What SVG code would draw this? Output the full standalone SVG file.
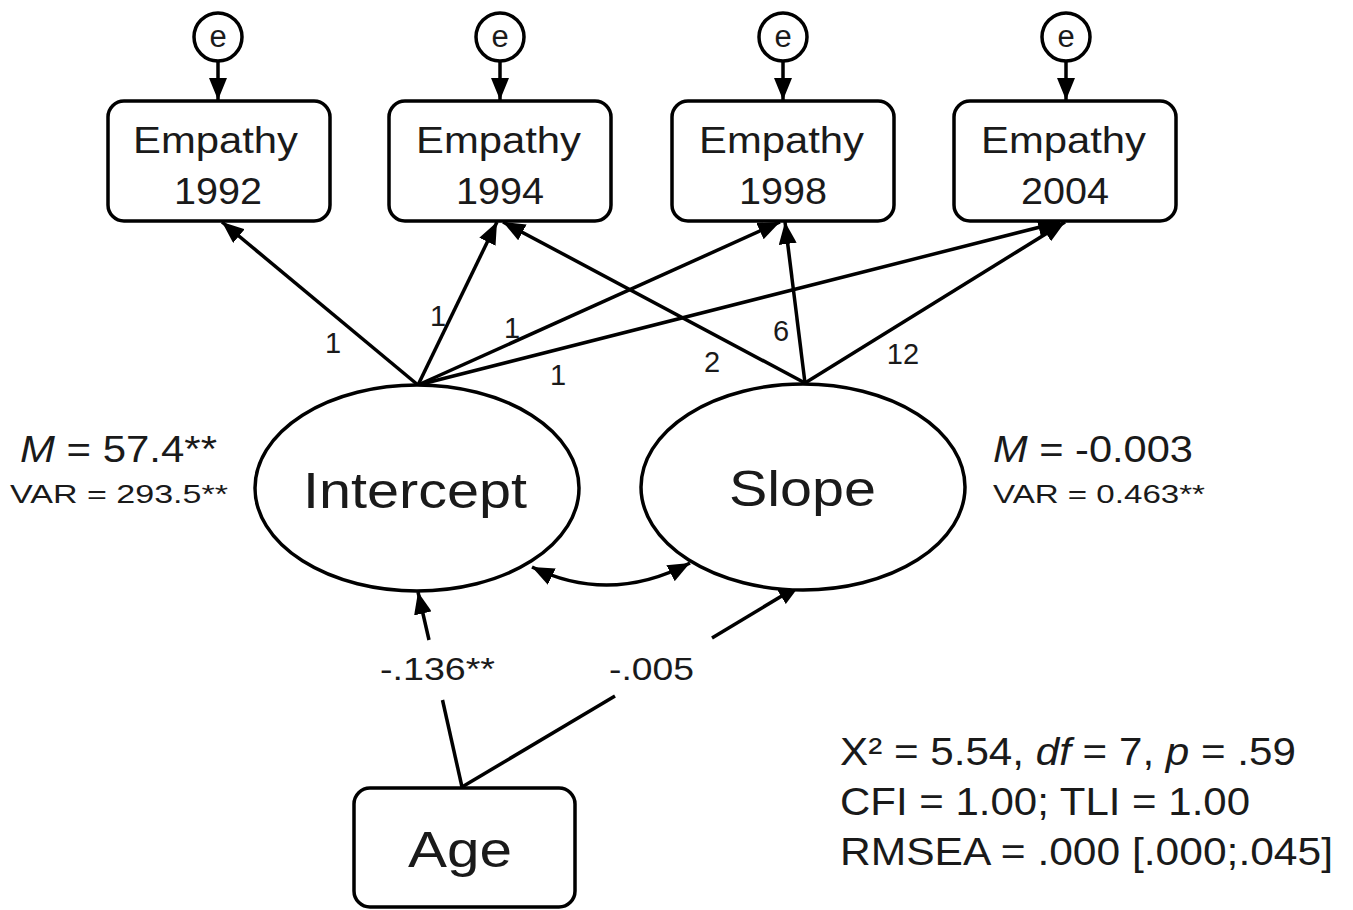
<svg xmlns="http://www.w3.org/2000/svg" width="1353" height="910" viewBox="0 0 1353 910">
<style>
  .ln{stroke:#000;stroke-width:3.5;fill:none}
  .box{fill:#fff;stroke:#000;stroke-width:3.5}
  .t{font-family:"Liberation Sans",Arial,sans-serif;fill:#1a1a1a}
  .lbl{font-family:"Liberation Sans",Arial,sans-serif;fill:#1a1a1a;font-size:29px;text-anchor:middle}
  .e{font-family:"Liberation Sans",Arial,sans-serif;fill:#1a1a1a;font-size:31px;text-anchor:middle}
</style>
<defs>
  <marker id="ah" viewBox="0 0 22 18" refX="22" refY="9" markerWidth="22" markerHeight="18" markerUnits="userSpaceOnUse" orient="auto-start-reverse">
    <path d="M0,0 L22,9 L0,18 z" fill="#000"/>
  </marker>
</defs>
<rect width="1353" height="910" fill="#fff"/>
<g id="connectors">
  <line class="ln" x1="218" y1="61" x2="218" y2="100" marker-end="url(#ah)"/>
  <line class="ln" x1="500" y1="61" x2="500" y2="100" marker-end="url(#ah)"/>
  <line class="ln" x1="783" y1="61" x2="783" y2="100" marker-end="url(#ah)"/>
  <line class="ln" x1="1066" y1="61" x2="1066" y2="100" marker-end="url(#ah)"/>
  <line class="ln" x1="418" y1="385" x2="222" y2="222" marker-end="url(#ah)"/>
  <line class="ln" x1="418" y1="385" x2="497" y2="222" marker-end="url(#ah)"/>
  <line class="ln" x1="418" y1="385" x2="780" y2="222" marker-end="url(#ah)"/>
  <line class="ln" x1="418" y1="385" x2="1060" y2="222" marker-end="url(#ah)"/>
  <line class="ln" x1="805" y1="383" x2="503" y2="222" marker-end="url(#ah)"/>
  <line class="ln" x1="805" y1="383" x2="785" y2="222" marker-end="url(#ah)"/>
  <line class="ln" x1="805" y1="383" x2="1065" y2="222" marker-end="url(#ah)"/>
  <path class="ln" d="M532,567 Q610,605 690,563" marker-start="url(#ah)" marker-end="url(#ah)"/>
  <line class="ln" x1="462" y1="787" x2="442.5" y2="700"/>
  <line class="ln" x1="429" y1="640" x2="418" y2="592" marker-end="url(#ah)"/>
  <line class="ln" x1="462" y1="787" x2="615" y2="696"/>
  <line class="ln" x1="712" y1="638" x2="800" y2="585" marker-end="url(#ah)"/>
  <text class="lbl" x="333" y="353">1</text>
  <text class="lbl" x="438" y="326">1</text>
  <text class="lbl" x="512" y="338">1</text>
  <text class="lbl" x="558" y="385">1</text>
  <text class="lbl" x="712" y="372">2</text>
  <text class="lbl" x="781" y="341">6</text>
  <text class="lbl" x="903" y="364">12</text>
  <text class="t" x="380" y="680" font-size="32" textLength="115" lengthAdjust="spacingAndGlyphs">-.136**</text>
  <text class="t" x="609" y="680" font-size="32" textLength="85" lengthAdjust="spacingAndGlyphs">-.005</text>
</g>
<g id="e1"><circle class="box" cx="218" cy="37" r="24"/><text class="e" x="218" y="47">e</text></g>
<g id="e2"><circle class="box" cx="500" cy="37" r="24"/><text class="e" x="500" y="47">e</text></g>
<g id="e3"><circle class="box" cx="783" cy="37" r="24"/><text class="e" x="783" y="47">e</text></g>
<g id="e4"><circle class="box" cx="1066" cy="37" r="24"/><text class="e" x="1066" y="47">e</text></g>
<g id="emp1992">
  <rect class="box" x="108" y="101" width="222" height="120" rx="16"/>
  <text class="t" x="133" y="153" font-size="36" textLength="165" lengthAdjust="spacingAndGlyphs">Empathy</text>
  <text class="t" x="174" y="204" font-size="36" textLength="88" lengthAdjust="spacingAndGlyphs">1992</text>
</g>
<g id="emp1994">
  <rect class="box" x="389" y="101" width="222" height="120" rx="16"/>
  <text class="t" x="416" y="153" font-size="36" textLength="165" lengthAdjust="spacingAndGlyphs">Empathy</text>
  <text class="t" x="456" y="204" font-size="36" textLength="88" lengthAdjust="spacingAndGlyphs">1994</text>
</g>
<g id="emp1998">
  <rect class="box" x="672" y="101" width="222" height="120" rx="16"/>
  <text class="t" x="699" y="153" font-size="36" textLength="165" lengthAdjust="spacingAndGlyphs">Empathy</text>
  <text class="t" x="739" y="204" font-size="36" textLength="88" lengthAdjust="spacingAndGlyphs">1998</text>
</g>
<g id="emp2004">
  <rect class="box" x="954" y="101" width="222" height="120" rx="16"/>
  <text class="t" x="981" y="153" font-size="36" textLength="165" lengthAdjust="spacingAndGlyphs">Empathy</text>
  <text class="t" x="1021" y="204" font-size="36" textLength="88" lengthAdjust="spacingAndGlyphs">2004</text>
</g>
<g id="intercept">
  <ellipse class="box" cx="417" cy="488" rx="162" ry="103"/>
  <text class="t" x="303" y="508" font-size="50" textLength="224" lengthAdjust="spacingAndGlyphs">Intercept</text>
</g>
<g id="slope">
  <ellipse class="box" cx="803" cy="487" rx="162" ry="103"/>
  <text class="t" x="729" y="506" font-size="50" textLength="147" lengthAdjust="spacingAndGlyphs">Slope</text>
</g>
<g id="age">
  <rect class="box" x="354" y="788" width="221" height="119" rx="16"/>
  <text class="t" x="408" y="867" font-size="50" textLength="104" lengthAdjust="spacingAndGlyphs">Age</text>
</g>
<g id="intercept-stats">
  <text class="t" x="20" y="462" font-size="36" textLength="197" lengthAdjust="spacingAndGlyphs"><tspan font-style="italic">M</tspan> = 57.4**</text>
  <text class="t" x="10" y="503" font-size="26" textLength="218" lengthAdjust="spacingAndGlyphs">VAR = 293.5**</text>
</g>
<g id="slope-stats">
  <text class="t" x="993" y="462" font-size="36" textLength="200" lengthAdjust="spacingAndGlyphs"><tspan font-style="italic">M</tspan> = -0.003</text>
  <text class="t" x="993" y="503" font-size="26" textLength="212" lengthAdjust="spacingAndGlyphs">VAR = 0.463**</text>
</g>
<g id="fit">
  <text class="t" x="840" y="765" font-size="38" textLength="456" lengthAdjust="spacingAndGlyphs">X² = 5.54, <tspan font-style="italic">df</tspan> = 7, <tspan font-style="italic">p</tspan> = .59</text>
  <text class="t" x="840" y="815" font-size="38" textLength="410" lengthAdjust="spacingAndGlyphs">CFI = 1.00; TLI = 1.00</text>
  <text class="t" x="840" y="865" font-size="38" textLength="493" lengthAdjust="spacingAndGlyphs">RMSEA = .000 [.000;.045]</text>
</g>
</svg>
